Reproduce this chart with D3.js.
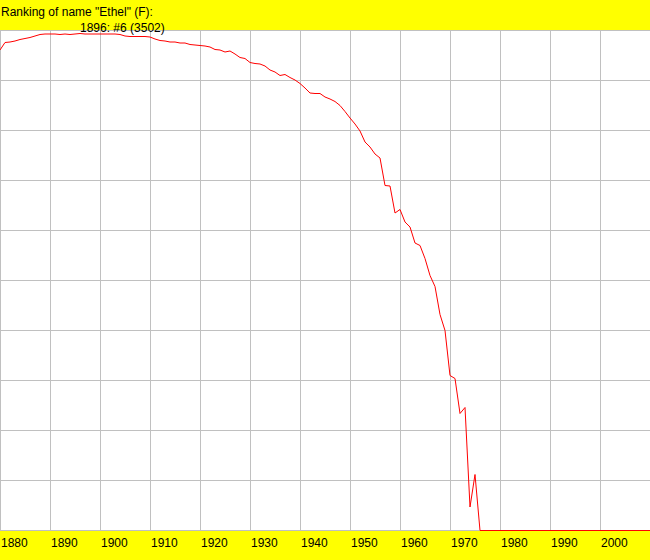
<!DOCTYPE html>
<html lang="en">
<head>
<meta charset="utf-8">
<title>Ranking of name "Ethel" (F)</title>
<script src="https://cdn.jsdelivr.net/npm/d3@7"></script>
<style>
  html, body { margin: 0; padding: 0; background: #fff; }
  svg { display: block; }
  .band { fill: #ffff00; }
  .grid line { stroke: #c0c0c0; stroke-width: 1px; shape-rendering: crispEdges; }
  .rank-line { fill: none; stroke: #ff0000; stroke-width: 1px; }
  text { font-family: "Liberation Sans", Arial, sans-serif; font-size: 12px; fill: #000; }
</style>
</head>
<body>
<div id="chart"></div>
<script>
// name / series
var nameLabel = "Ethel";
var sexLabel = "F";
var peakCount = 3502;

// rank per year, 1880..1975; later years are not in the top 1000
var firstYear = 1880;
var ranks = [
  39, 24, 23, 21, 18, 16, 14, 11, 8, 7,      // 1880-1889
  7, 7, 8, 7, 8, 7, 6, 7, 7, 7,              // 1890-1899
  7, 7, 7, 7, 8, 11, 12, 12, 12, 12,         // 1900-1909
  13, 17, 20, 21, 23, 23, 25, 25, 28, 29,    // 1910-1919
  30, 31, 33, 38, 39, 43, 41, 47, 54, 56,    // 1920-1929
  64, 66, 67, 71, 79, 83, 90, 88, 94, 99,    // 1930-1939
  106, 115, 125, 126, 126, 133, 137, 142, 150, 162, // 1940-1949
  175, 187, 201, 223, 233, 247, 255, 310, 311, 365, // 1950-1959
  358, 383, 393, 425, 430, 456, 490, 512, 568, 600, // 1960-1969
  690, 696, 766, 754, 953, 888                // 1970-1975
];
var lastYear = 2010;

var decades = d3.range(1880, 2001, 10);
var rankTicks = d3.range(0, 1001, 100);

var width = 650,
    height = 560,
    plotTop = 30,
    plotBottom = 530;

var data = d3.range(firstYear, lastYear + 1).map(function(yr, i) {
  return { year: yr, rank: i < ranks.length ? ranks[i] : null };
});

var x = d3.scaleLinear().domain([1880, 2010]).range([0, width]);
var y = d3.scaleLinear().domain([0, 1000]).range([plotTop, plotBottom]).clamp(true);

var svg = d3.select("#chart")
  .append("svg")
  .attr("width", width)
  .attr("height", height);

svg.append("rect").attr("class", "band")
  .attr("x", 0).attr("y", 0).attr("width", width).attr("height", plotTop);
svg.append("rect").attr("class", "band")
  .attr("x", 0).attr("y", plotBottom + 1).attr("width", width).attr("height", height - plotBottom - 1);

var grid = svg.append("g").attr("class", "grid");

grid.selectAll("line.v")
  .data(decades)
  .enter().append("line")
    .attr("class", "v")
    .attr("x1", function(d) { return x(d) + 0.5; })
    .attr("x2", function(d) { return x(d) + 0.5; })
    .attr("y1", plotTop)
    .attr("y2", plotBottom);

grid.selectAll("line.h")
  .data(rankTicks)
  .enter().append("line")
    .attr("class", "h")
    .attr("x1", 0)
    .attr("x2", width)
    .attr("y1", function(d) { return y(d) + 0.5; })
    .attr("y2", function(d) { return y(d) + 0.5; });

var line = d3.line()
  .x(function(d) { return x(d.year); })
  .y(function(d) { return y(d.rank == null ? 1000 : d.rank) + 0.5; });

svg.append("path")
  .datum(data)
  .attr("class", "rank-line")
  .attr("d", line);

// year labels
svg.append("g").selectAll("text")
  .data(decades)
  .enter().append("text")
    .attr("x", function(d) { return x(d) + 1; })
    .attr("y", 547)
    .text(function(d) { return d; });

// title
svg.append("text")
  .attr("x", 1)
  .attr("y", 16)
  .text('Ranking of name "' + nameLabel + '" (' + sexLabel + '):');

// best year
var best = d3.least(data.filter(function(d) { return d.rank != null; }), function(d) { return d.rank; });
svg.append("text")
  .attr("x", x(best.year))
  .attr("y", 32)
  .text(best.year + ": #" + best.rank + " (" + peakCount + ")");
</script>
</body>
</html>
